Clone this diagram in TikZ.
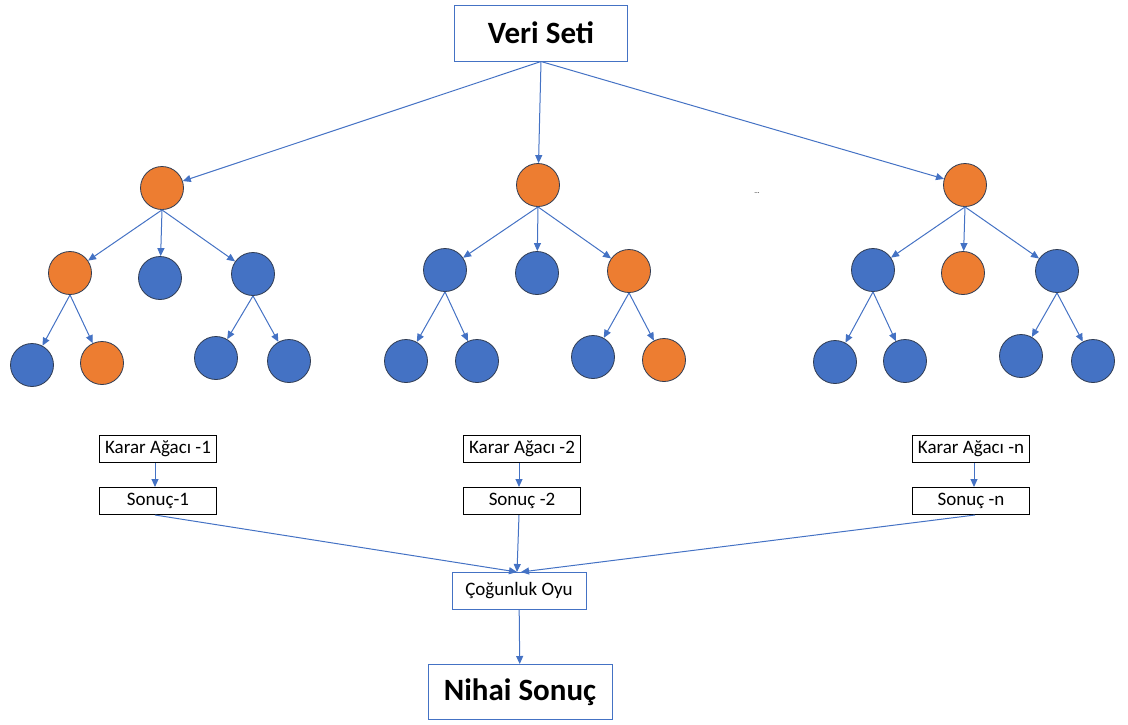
\documentclass[tikz,border=0pt]{standalone}
\usepackage{fontspec}
\setmainfont{Carlito}
\usetikzlibrary{arrows.meta}
\definecolor{edgeblue}{HTML}{4472C4}
\definecolor{nodeblue}{HTML}{4472C4}
\definecolor{nodeorange}{HTML}{ED7D31}
\definecolor{rimdark}{HTML}{2F3B52}
\begin{document}
\begin{tikzpicture}[x=1pt,y=-1pt,
  bl/.style={circle,draw=rimdark,line width=0.8pt,fill=nodeblue,minimum size=43pt,inner sep=0pt},
  og/.style={circle,draw=rimdark,line width=0.8pt,fill=nodeorange,minimum size=43pt,inner sep=0pt},
  arr/.style={draw=edgeblue,line width=1pt,-{Triangle[length=8pt,width=7pt]}},
  bigbox/.style={draw=edgeblue,line width=1pt,fill=white,font=\bfseries\fontsize{31}{34}\selectfont,inner sep=0pt},
  smallbox/.style={draw=black,line width=1pt,fill=white,font=\fontsize{19}{21}\selectfont,inner sep=0pt,minimum width=117pt,minimum height=27pt},
  votebox/.style={draw=edgeblue,line width=1pt,fill=white,font=\fontsize{19}{21}\selectfont,inner sep=0pt,minimum width=134pt,minimum height=37pt}
]
\useasboundingbox (0,0) rectangle (1128,724);

% top and bottom boxes
\node[bigbox,minimum width=173pt,minimum height=56pt] (data) at (541,33) {Veri Seti};
\node[bigbox,minimum width=184pt,minimum height=55pt] (final) at (520,692) {Nihai Sonuç};
\node[votebox] (vote) at (519,591) {Çoğunluk Oyu};

% tree 1
\node[og] (a0) at (162,188) {};
\node[og] (a1) at (70,273) {};
\node[bl] (a2) at (160,278) {};
\node[bl] (a3) at (253,274) {};
\node[bl] (a4) at (32,365) {};
\node[og] (a5) at (102,363) {};
\node[bl] (a6) at (216,358) {};
\node[bl] (a7) at (289,361) {};

% tree 2
\node[og] (b0) at (538,185) {};
\node[bl] (b1) at (445,270) {};
\node[bl] (b2) at (537,273) {};
\node[og] (b3) at (629,271) {};
\node[bl] (b4) at (406,361) {};
\node[bl] (b5) at (477,361) {};
\node[bl] (b6) at (593,357) {};
\node[og] (b7) at (664,360) {};

% tree n
\node[og] (c0) at (965,185) {};
\node[bl] (c1) at (873,270) {};
\node[og] (c2) at (963,273) {};
\node[bl] (c3) at (1057,271) {};
\node[bl] (c4) at (835,362) {};
\node[bl] (c5) at (905,361) {};
\node[bl] (c6) at (1021,356) {};
\node[bl] (c7) at (1093,361) {};

\node[font=\fontsize{7}{8}\selectfont,inner sep=0pt] (dots) at (757,193) {...};

% result boxes
\node[smallbox] (k1) at (158,449) {Karar Ağacı -1};
\node[smallbox] (s1) at (158,501) {Sonuç-1};
\node[smallbox] (k2) at (522,449) {Karar Ağacı -2};
\node[smallbox] (s2) at (522,501) {Sonuç -2};
\node[smallbox] (k3) at (971,449) {Karar Ağacı -n};
\node[smallbox] (s3) at (971,501) {Sonuç -n};

% connectors: data set to tree roots
\draw[arr] (data.south) -- (a0);
\draw[arr] (data.south) -- (b0);
\draw[arr] (data.south) -- (c0);

% tree edges leave each parent from its lowest point
\foreach \t in {a,b,c}{
  \draw[arr] (\t0.south) -- (\t1);
  \draw[arr] (\t0.south) -- (\t2);
  \draw[arr] (\t0.south) -- (\t3);
  \draw[arr] (\t1.south) -- (\t4);
  \draw[arr] (\t1.south) -- (\t5);
  \draw[arr] (\t3.south) -- (\t6);
  \draw[arr] (\t3.south) -- (\t7);
}

% tree labels to results
\draw[arr] (k1.south -| 155,0) -- (s1.north -| 155,0);
\draw[arr] (k2.south -| 519,0) -- (s2.north -| 519,0);
\draw[arr] (k3.south -| 974,0) -- (s3.north -| 974,0);

% results to majority vote
\draw[arr] (s1.south -| 155,0) -- (vote.north -| 517,0);
\draw[arr] (s2.south -| 519,0) -- (vote.north -| 517,0);
\draw[arr] (s3.south -| 975,0) -- (vote.north -| 521,0);

\draw[arr] (vote) -- (final);
\end{tikzpicture}
\end{document}
